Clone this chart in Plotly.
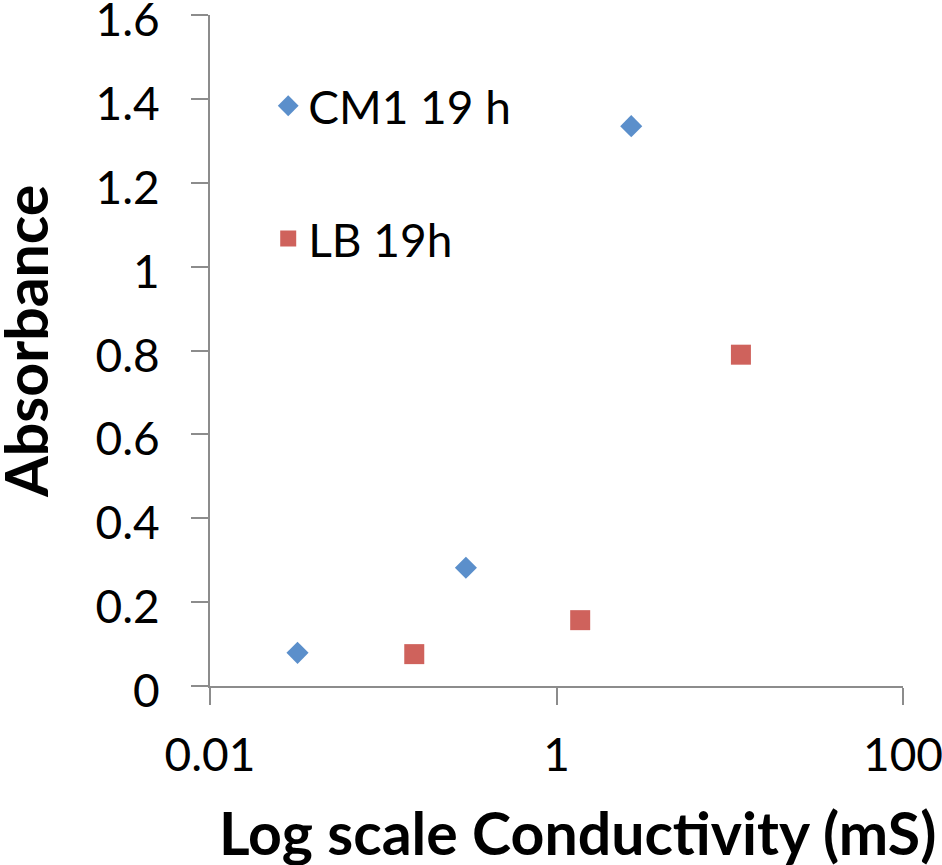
import plotly.graph_objects as go

cm1_x = [0.032, 0.30, 2.7]
cm1_y = [0.079, 0.282, 1.335]
lb_x = [0.151, 1.37, 11.6]
lb_y = [0.076, 0.157, 0.79]
names = ["CM1 19 h", "LB 19h"]
y_ticks = [0, 0.2, 0.4, 0.6, 0.8, 1, 1.2, 1.4, 1.6]
y_ticklabels = ["0", "0.2", "0.4", "0.6", "0.8", "1", "1.2", "1.4", "1.6"]
x_ticks = [0.01, 1, 100]
x_ticklabels = ["0.01", "1", "100"]
x_title = "Log scale Conductivity (mS)"
y_title = "Absorbance"

FONT = "Lato, 'Open Sans', sans-serif"
AXC = "#8c8c8c"

fig = go.Figure()
fig.add_trace(go.Scatter(x=cm1_x, y=cm1_y, mode="markers", name=names[0], legendgroup="a",
                         marker=dict(symbol="diamond", size=17, color="#5b8fcb", line=dict(width=0))))
fig.add_trace(go.Scatter(x=lb_x, y=lb_y, mode="markers", name=names[1], legendgroup="b",
                         marker=dict(symbol="square", size=20, color="#cf625c", line=dict(width=0))))

fig.update_layout(
    width=942, height=865,
    margin=dict(l=210, r=39, t=15, b=179, autoexpand=False),
    paper_bgcolor="white", plot_bgcolor="white",
    font=dict(family=FONT, color="black"),
    showlegend=True,
    legend=dict(x=0.084, y=0.919, xanchor="left", yanchor="top", bgcolor="rgba(0,0,0,0)",
                font=dict(size=46, family=FONT), tracegroupgap=70, itemsizing="trace"),
    xaxis=dict(type="log", range=[-2, 2], tickvals=x_ticks, ticktext=x_ticklabels,
               showgrid=False, zeroline=False, showline=True, linecolor=AXC, linewidth=2,
               ticks="outside", ticklen=17, tickcolor=AXC, tickwidth=2, automargin=False,
               ticklabeloverflow="allow",
               tickfont=dict(size=46, family=FONT), ticklabelstandoff=11),
    yaxis=dict(range=[0, 1.6], tickvals=y_ticks, ticktext=y_ticklabels,
               showgrid=False, zeroline=False, showline=True, linecolor=AXC, linewidth=2,
               ticks="outside", ticklen=17, tickcolor=AXC, tickwidth=2, automargin=False,
               ticklabeloverflow="allow", ticklabelshift=5,
               tickfont=dict(size=46, family=FONT), ticklabelstandoff=22),
    annotations=[
        dict(text="<b>" + x_title + "</b>", xref="paper", yref="paper", x=0.531, y=-0.2176,
             xanchor="center", yanchor="middle", showarrow=False,
             font=dict(size=59, family=FONT, color="black")),
        dict(text="<b>" + y_title + "</b>", xref="paper", yref="paper", x=-0.267, y=0.514,
             xanchor="center", yanchor="middle", showarrow=False, textangle=-90,
             font=dict(size=59, family=FONT, color="black")),
    ],
)

fig.write_html("out.html", config={"displayModeBar": False},
               post_script="document.body.style.margin='0px';")
